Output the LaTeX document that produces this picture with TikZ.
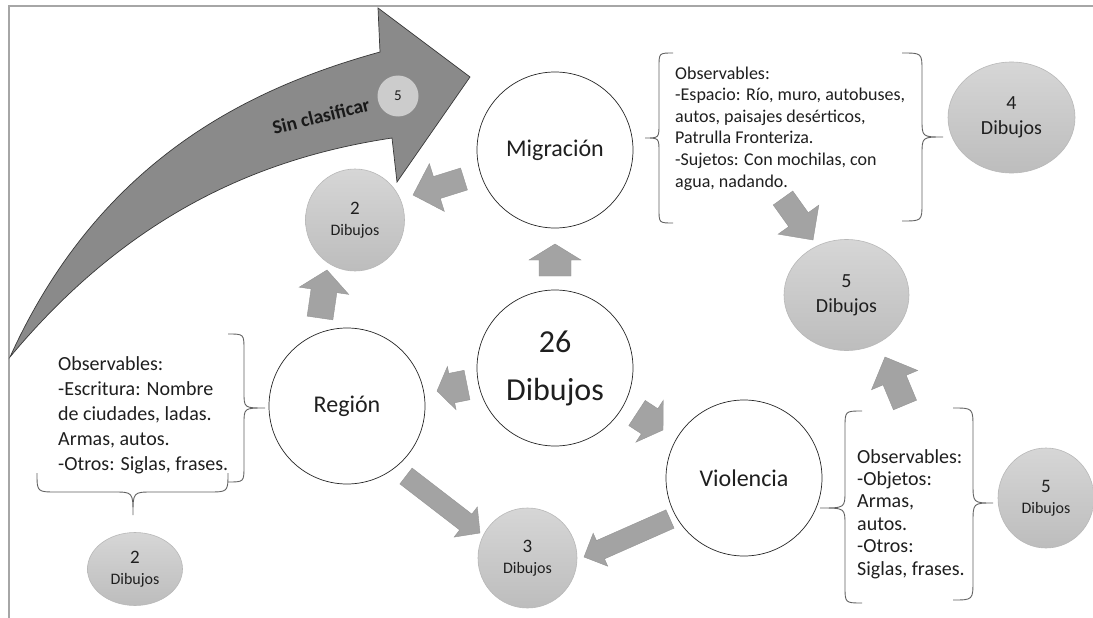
\documentclass[tikz,border=0pt]{standalone}
\usepackage{fontspec}
\setmainfont{Carlito}
\usetikzlibrary{calc,shapes.geometric}

\tikzset{
  every node/.style={inner sep=0pt, text=black!88},
  bigcirc/.style={circle, draw=black!85, line width=0.7pt, fill=white,
    minimum size=156pt, align=center, font=\fontsize{24}{29}\selectfont},
  graycirc/.style={ellipse, draw=black!28, line width=0.6pt,
    top color=black!16, bottom color=black!26, align=center},
  smalllbl/.style={font=\fontsize{16}{21}\selectfont},
  biglbl/.style={font=\fontsize{20}{25}\selectfont},
  blockfill/.style={fill=black!36, draw=black!42, line width=0.4pt},
  bigarrow/.style={fill=black!46, draw=black!78, line width=0.7pt},
  bracepen/.style={draw=black!62, line width=0.9pt},
  obstext/.style={align=left, anchor=base west},
  framepen/.style={draw=black!35, line width=2pt},
}

% block arrow: #1 tail, #2 tip, #3 shaft half-width, #4 head half-width, #5 head length
\newcommand{\blockarrow}[5]{%
  \coordinate (bahead) at ($(#2)!#5!(#1)$);
  \filldraw[blockfill] ($(#1)!#3!90:(#2)$) -- ($(bahead)!#3!90:(#2)$)
    -- ($(bahead)!#4!90:(#2)$) -- (#2) -- ($(bahead)!#4!-90:(#2)$)
    -- ($(bahead)!#3!-90:(#2)$) -- ($(#1)!#3!-90:(#2)$) -- cycle;
}
% vertical curly brace: x end, x stem, x tip, y top, y tip, y bottom, radius
\newcommand{\obsvbrace}[7]{%
  \draw[bracepen] (#1,#4) .. controls (#2,#4) .. (#2,{#4+#7}) -- (#2,{#5-#7})
    .. controls (#2,#5) .. (#3,#5) .. controls (#2,#5) .. (#2,{#5+#7})
    -- (#2,{#6-#7}) .. controls (#2,#6) .. (#1,#6);
}
% horizontal curly brace: x left, x tip, x right, y ends, y stem, y tip, radius
\newcommand{\obshbrace}[7]{%
  \draw[bracepen] (#1,#4) .. controls (#1,#5) .. ({#1+#7},#5) -- ({#2-#7},#5)
    .. controls (#2,#5) .. (#2,#6) .. controls (#2,#5) .. ({#2+#7},#5)
    -- ({#3-#7},#5) .. controls (#3,#5) .. (#3,#4);
}

\begin{document}
\begin{tikzpicture}[x=1pt,y=-1pt]
\useasboundingbox (0,0) rectangle (1093,618);
\fill[white] (0,0) rectangle (1093,618);
\draw[framepen] (9,620) -- (9,6) -- (1095,6);

% large curved arrow for the unclassified drawings
\filldraw[bigarrow] (10,357) .. controls (100,159) and (250,88) .. (380,52)
  -- (378,8) -- (470,77) -- (397,182) -- (392,138)
  .. controls (262,157.5) and (130,213) .. (10,357) -- cycle;
\node[font=\bfseries\fontsize{19.5}{24}\selectfont, rotate=14, text=black!90] (sinclas) at (321,116) {Sin clasificar};
\node[circle, fill=black!20, minimum size=41pt, font=\fontsize{15}{18}\selectfont] (sinnum) at (398,96) {5};

% main categories
\node[bigcirc] (mig) at (555,150) {Migración};
\node[bigcirc, font=\fontsize{32}{48}\selectfont] (total) at (555,368) {26\\Dibujos};
\node[bigcirc] (reg) at (347,406) {Región};
\node[bigcirc] (vio) at (744,478) {Violencia};

% counts
\node[graycirc, smalllbl, minimum width=99pt, minimum height=102pt] (dosA) at (355,220) {{\fontsize{19}{21}\selectfont 2}\\Dibujos};
\node[graycirc, smalllbl, minimum width=99pt, minimum height=100pt] (tres) at (527.5,558) {{\fontsize{19}{21}\selectfont 3}\\Dibujos};
\node[graycirc, smalllbl, minimum width=96pt, minimum height=100pt] (cincoB) at (1046,498) {{\fontsize{19}{21}\selectfont 5}\\Dibujos};
\node[graycirc, smalllbl, minimum width=95pt, minimum height=73pt] (dosB) at (135,569) {{\fontsize{19}{21}\selectfont 2}\\Dibujos};
\node[graycirc, biglbl, minimum width=125pt, minimum height=111pt] (cincoA) at (846.5,295) {5\\Dibujos};
\node[graycirc, biglbl, minimum width=127pt, minimum height=111pt] (cuatro) at (1011.5,117.5) {4\\Dibujos};

% observation texts (anchored at the baseline of their last line)
\node[obstext, font=\fontsize{18}{21.6}\selectfont] (obsmig) at (675,187) {Observables:\\-Espacio: Río, muro, autobuses,\\autos, paisajes desérticos,\\Patrulla Fronteriza.\\-Sujetos: Con mochilas, con\\agua, nadando.};
\node[obstext, font=\fontsize{20}{24.8}\selectfont] (obsreg) at (58,470) {Observables:\\-Escritura: Nombre\\de ciudades, ladas.\\Armas, autos.\\-Otros: Siglas, frases.};
\node[obstext, font=\fontsize{20}{22.4}\selectfont] (obsvio) at (857,575) {Observables:\\-Objetos:\\Armas,\\autos.\\-Otros:\\Siglas, frases.};

% braces
\obsvbrace{673}{659}{645}{53}{138}{223}{14}
\obsvbrace{902}{922}{943}{53}{137}{221}{18}
\obsvbrace{228}{244}{265}{334}{408}{482}{16}
\obsvbrace{862}{845}{820}{411}{508}{603}{17}
\obsvbrace{953}{973}{993}{408}{503}{600}{20}
\obshbrace{37}{133}{228}{473}{492}{515}{20}

% block arrows
\coordinate (a1s) at (555,276); \coordinate (a1e) at (555,244);
\coordinate (a2s) at (464,179); \coordinate (a2e) at (413,195);
\coordinate (a3s) at (320,318); \coordinate (a3e) at (327,270);
\coordinate (a4s) at (467,385); \coordinate (a4e) at (437,391);
\coordinate (a5s) at (637,413); \coordinate (a5e) at (663,430);
\coordinate (a6s) at (406,476); \coordinate (a6e) at (480,533);
\coordinate (a7s) at (670,519); \coordinate (a7e) at (584,557);
\coordinate (a8s) at (783,198); \coordinate (a8e) at (813,240);
\coordinate (a9s) at (905,405); \coordinate (a9e) at (885,357);
\blockarrow{a1s}{a1e}{16pt}{26pt}{16pt}
\blockarrow{a2s}{a2e}{11.5pt}{25pt}{25pt}
\blockarrow{a3s}{a3e}{13pt}{25pt}{21pt}
\blockarrow{a4s}{a4e}{15pt}{22pt}{15pt}
\blockarrow{a5s}{a5e}{15pt}{25pt}{16pt}
\blockarrow{a6s}{a6e}{10pt}{19pt}{18pt}
\blockarrow{a7s}{a7e}{10pt}{18pt}{18pt}
\blockarrow{a8s}{a8e}{12pt}{25pt}{25pt}
\blockarrow{a9s}{a9e}{12.5pt}{25pt}{25pt}
\end{tikzpicture}
\end{document}
